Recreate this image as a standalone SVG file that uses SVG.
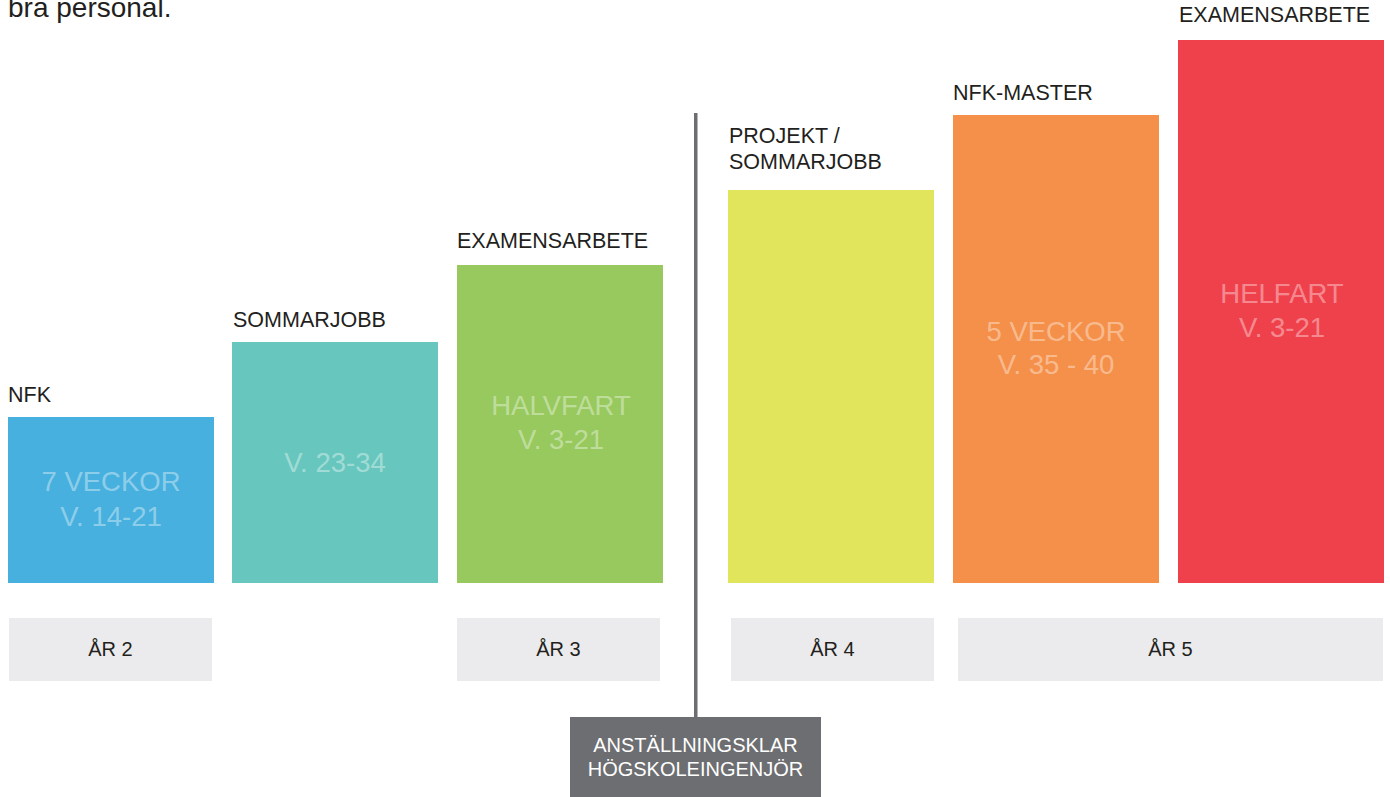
<svg xmlns="http://www.w3.org/2000/svg" width="1390" height="797" viewBox="0 0 1390 797">
<style>
text{font-family:"Liberation Sans",Arial,Helvetica,sans-serif}
.lbl{font-size:21.5px;fill:#231f20}
.intro{font-size:28px;fill:#231f20}
.in{font-size:27.5px;fill:#ffffff;fill-opacity:0.4;text-anchor:middle}
.yr{fill:#ebebed}
.yt{font-size:20px;fill:#231f20;text-anchor:middle}
.gray{fill:#6d6e71}
.gt{font-size:20px;fill:#ffffff;text-anchor:middle}
</style>
<rect width="1390" height="797" fill="#ffffff"/>
<text class="intro" x="8" y="17">bra personal.</text>

<g id="connectors">
<rect class="gray" x="694" y="113" width="3.5" height="605"/>
</g>

<g id="bar-nfk">
<text class="lbl" x="8" y="402">NFK</text>
<rect x="8" y="417" width="206" height="166" fill="#47b0de"/>
<text class="in" x="111" y="491">7 VECKOR</text>
<text class="in" x="111" y="526">V. 14-21</text>
</g>

<g id="bar-sommarjobb">
<text class="lbl" x="233" y="327">SOMMARJOBB</text>
<rect x="232" y="342" width="206" height="241" fill="#67c6bd"/>
<text class="in" x="335" y="472">V. 23-34</text>
</g>

<g id="bar-examensarbete-1">
<text class="lbl" x="457" y="248">EXAMENSARBETE</text>
<rect x="457" y="265" width="206" height="318" fill="#97c95e"/>
<text class="in" x="561" y="415">HALVFART</text>
<text class="in" x="561" y="449">V. 3-21</text>
</g>

<g id="bar-projekt">
<text class="lbl" x="729" y="143">PROJEKT /</text>
<text class="lbl" x="729" y="169">SOMMARJOBB</text>
<rect x="728" y="190" width="206" height="393" fill="#e1e55b"/>
</g>

<g id="bar-nfk-master">
<text class="lbl" x="953" y="100">NFK-MASTER</text>
<rect x="953" y="115" width="206" height="468" fill="#f4904a"/>
<text class="in" x="1056" y="341">5 VECKOR</text>
<text class="in" x="1056" y="374">V. 35 - 40</text>
</g>

<g id="bar-examensarbete-2">
<text class="lbl" x="1179" y="22">EXAMENSARBETE</text>
<rect x="1178" y="40" width="206" height="543" fill="#ef414b"/>
<text class="in" x="1282" y="303">HELFART</text>
<text class="in" x="1282" y="337">V. 3-21</text>
</g>

<g id="year-2">
<rect class="yr" x="9" y="618" width="203" height="63"/>
<text class="yt" x="110.5" y="656">ÅR 2</text>
</g>
<g id="year-3">
<rect class="yr" x="457" y="618" width="203" height="63"/>
<text class="yt" x="558.5" y="656">ÅR 3</text>
</g>
<g id="year-4">
<rect class="yr" x="731" y="618" width="203" height="63"/>
<text class="yt" x="832.5" y="656">ÅR 4</text>
</g>
<g id="year-5">
<rect class="yr" x="958" y="618" width="425" height="63"/>
<text class="yt" x="1170.5" y="656">ÅR 5</text>
</g>

<g id="milestone">
<rect class="gray" x="570" y="717" width="251" height="80"/>
<text class="gt" x="695.5" y="752">ANSTÄLLNINGSKLAR</text>
<text class="gt" x="695.5" y="776">HÖGSKOLEINGENJÖR</text>
</g>
</svg>
